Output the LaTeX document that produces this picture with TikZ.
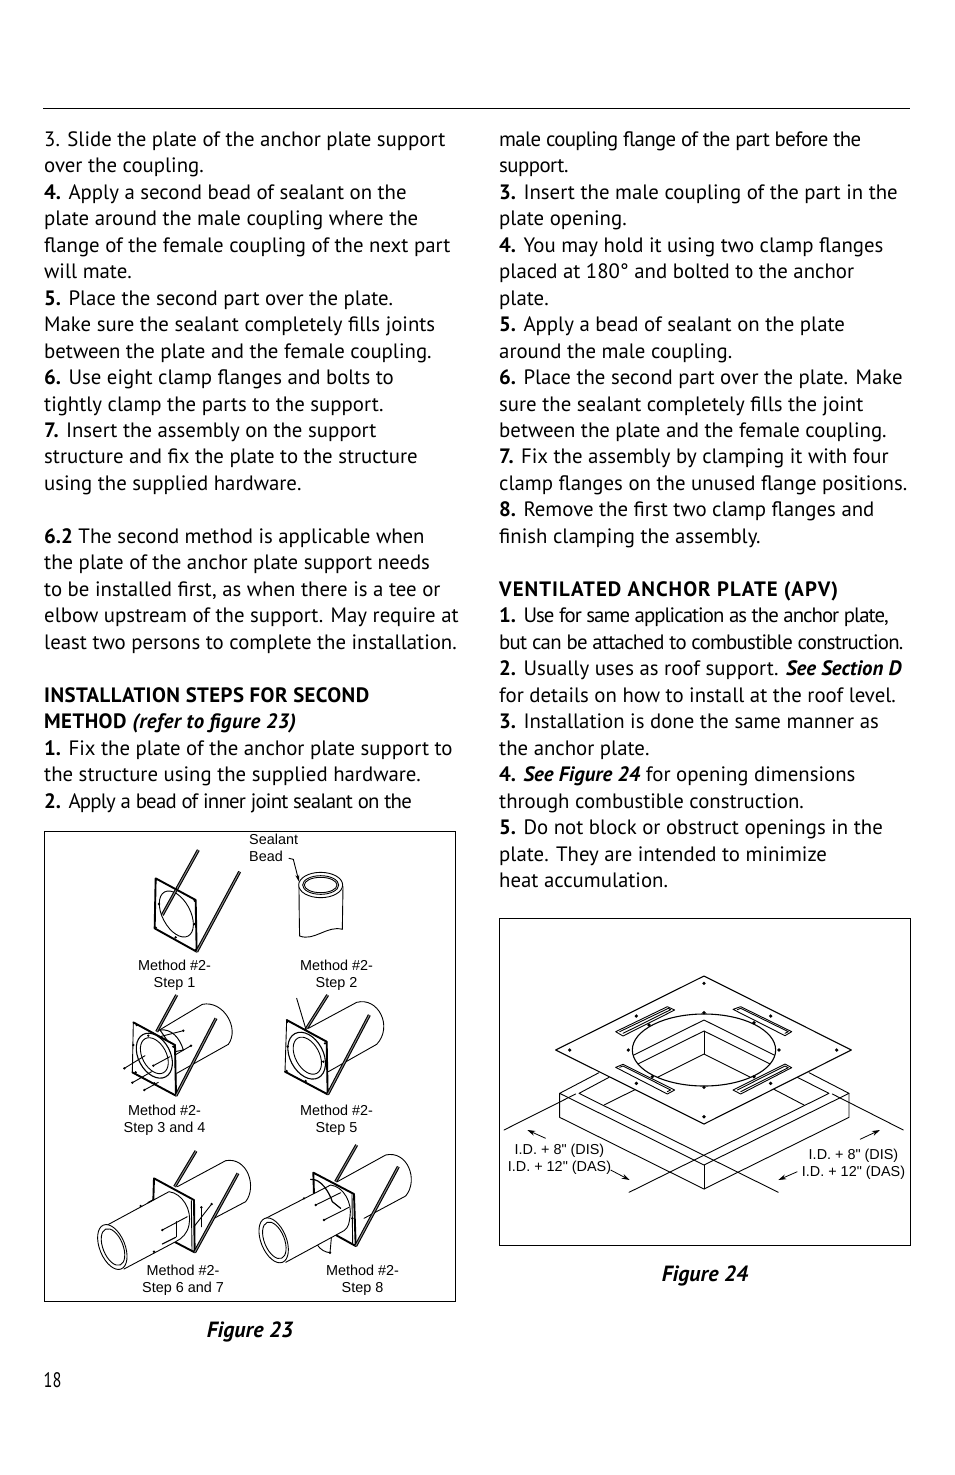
\documentclass[tikz,border=0pt]{standalone}
\usepackage{fontspec}
\setmainfont{PT Sans}
\newfontfamily\figfont{Liberation Sans}
\usetikzlibrary{arrows.meta}
\newcommand{\tight}[2]{{\addfontfeature{LetterSpace=#1}#2}}
\newcommand{\sbf}[1]{\textbf{#1}}
\newcommand{\bit}[1]{\textbf{\textit{#1}}}
\tikzset{
  bodytext/.style={anchor=north west,inner sep=0pt,align=left,font=\fontsize{20.8}{26.47}\selectfont},
  caption/.style={inner sep=0pt,font=\fontsize{22}{26}\selectfont\bfseries\itshape},
  figlabel/.style={inner sep=0pt,align=center,font=\figfont\fontsize{14.4}{17}\selectfont},
  ln/.style={line width=.9pt,line cap=round,line join=round},
  hv/.style={line width=1.9pt,line cap=round,line join=round},
  clampbar/.style={line width=1.2pt,line cap=round},
  rod/.style={draw=black,double=black!45,double distance=.9pt,line width=1.1pt},
  framebox/.style={line width=.8pt},
  tip/.style={line width=.8pt,-{Stealth[length=8pt,width=5pt]}},
}
\begin{document}
\begin{tikzpicture}[x=1pt,y=-1pt]
\useasboundingbox[fill=white] (0,0) rectangle (954,1475);
\draw[line width=.8pt] (43,108.5) -- (910,108.5);

\node[bodytext] (leftcol) at (44,131.3) {3. Slide the plate of the anchor plate support\\
over the coupling.\\
\sbf{4.} Apply a second bead of sealant on the\\
plate around the male coupling where the\\
flange of the female coupling of the next part\\
will mate.\\
\sbf{5.} Place the second part over the plate.\\
Make sure the sealant completely fills joints\\
between the plate and the female coupling.\\
\sbf{6.} Use eight clamp flanges and bolts to\\
tightly clamp the parts to the support.\\
\sbf{7.} Insert the assembly on the support\\
structure and fix the plate to the structure\\
using the supplied hardware.\\
\mbox{}\\
\sbf{6.2} The second method is applicable when\\
the plate of the anchor plate support needs\\
to be installed first, as when there is a tee or\\
elbow upstream of the support. May require at\\
least two persons to complete the installation.\\
\mbox{}\\
\tight{2}{\sbf{INSTALLATION STEPS FOR SECOND}}\\
\tight{2}{\sbf{METHOD}} \tight{2}{\bit{(refer to figure 23)}}\\
\sbf{1.} Fix the plate of the anchor plate support to\\
the structure using the supplied hardware.\\
\sbf{2.} \tight{-3.7}{Apply a bead of inner joint sealant on the}};

\node[bodytext] (rightcol) at (499,131.3) {\tight{-3.1}{male coupling flange of the part before the}\\
\tight{-2.6}{support.}\\
\sbf{3.} Insert the male coupling of the part in the\\
plate opening.\\
\sbf{4.} You may hold it using two clamp flanges\\
placed at 180° and bolted to the anchor\\
plate.\\
\sbf{5.} Apply a bead of sealant on the plate\\
around the male coupling.\\
\sbf{6.} Place the second part over the plate. Make\\
sure the sealant completely fills the joint\\
between the plate and the female coupling.\\
\sbf{7.} Fix the assembly by clamping it with four\\
clamp flanges on the unused flange positions.\\
\sbf{8.} Remove the first two clamp flanges and\\
finish clamping the assembly.\\
\mbox{}\\
\tight{5}{\sbf{VENTILATED ANCHOR PLATE (APV)}}\\
\sbf{1.} \tight{-4.6}{Use for same application as the anchor plate,}\\
\tight{-3.5}{but can be attached to combustible construction.}\\
\sbf{2.} Usually uses as roof support. \bit{See Section D}\\
for details on how to install at the roof level.\\
\sbf{3.} Installation is done the same manner as\\
the anchor plate.\\
\sbf{4.} \bit{See Figure 24} for opening dimensions\\
through combustible construction.\\
\sbf{5.} Do not block or obstruct openings in the\\
plate. They are intended to minimize\\
heat accumulation.};

\node[inner sep=0pt,font=\fontsize{21}{26}\selectfont] (pageno) at (52.5,1380) {\scalebox{.78}[1]{18}};
\node[caption] (cap23) at (250,1331.5) {Figure 23};
\node[caption] (cap24) at (705,1275.5) {Figure 24};

% ---------- Figure 23 ----------
\draw[framebox] (44,831) rectangle (455.7,1301.5);
\node[figlabel,align=left,anchor=north west] (sealant) at (249,834) {Sealant\\Bead};
\node[figlabel] (m1) at (174.5,975.5) {Method \#2-\\Step 1};
\node[figlabel] (m2) at (336.5,975.5) {Method \#2-\\Step 2};
\node[figlabel] (m3) at (164.5,1120.5) {Method \#2-\\Step 3 and 4};
\node[figlabel] (m5) at (336.5,1120.5) {Method \#2-\\Step 5};
\node[figlabel] (m6) at (183,1280.5) {Method \#2-\\Step 6 and 7};
\node[figlabel] (m8) at (362.5,1280.5) {Method \#2-\\Step 8};

% Steps 1 and 2
\begin{scope}[shift={(44,830)},scale=1/3]
  \draw[hv,fill=white] (335,145) -- (455,210) -- (458,365) -- (332,295) -- cycle;
  \draw[ln] (397,252) ellipse [x radius=75,y radius=42,rotate=-62];
  \draw[rod] (355,255) -- (463,60);
  \draw[rod] (458,365) -- (587,125);
  \foreach \p in {(338,148),(452,212),(335,293),(455,360),(345,222),(452,282),(397,178),(395,322)}
    \fill \p circle (4);
  % sealant cylinder
  \draw[ln] (765,170) .. controls (765,185) and (766,300) .. (767,318)
     .. controls (810,335) and (850,285) .. (895,298) -- (897,170);
  \draw[ln,fill=white] (830,165) ellipse [x radius=66,y radius=38];
  \draw[ln] (830,165) ellipse [x radius=54,y radius=28];
  \draw[ln] (830,165) ellipse [x radius=49,y radius=23];
  \draw[ln,-{Stealth[length=7pt,width=4pt]}] (735,85) -- (748,88) -- (765,155);
\end{scope}

% Steps 3 and 4
\begin{scope}[shift={(115,995)},scale=1/3]
  \draw[ln] (125,110) -- (262,28) .. controls (325,15) and (375,100) .. (340,148) -- (185,235);
  \draw[line width=1pt,fill=white] (135,105) .. controls (170,100) and (195,130) .. (205,165) -- (180,170) -- cycle;
  \draw[ln] (135,125) -- (205,107);
  \draw[ln] (180,180) -- (228,152);
  \draw[ln,fill=white] (55,82) -- (180,150) -- (183,302) -- (52,232) -- cycle;
  \draw[hv] (55,82) -- (180,150);
  \draw[hv] (52,232) -- (183,302) -- (180,150);
  \draw[line width=1.1pt,fill=white] (118,182) ellipse [x radius=72,y radius=48,rotate=-62];
  \draw[ln] (118,182) ellipse [x radius=58,y radius=36,rotate=-62];
  \draw[rod] (125,110) -- (185,0);
  \draw[rod] (183,302) -- (303,70);
  \draw[ln] (28,220) -- (90,182);
  \draw[ln] (115,212) -- (165,185);
  \draw[ln] (52,263) -- (110,230);
  \draw[ln] (88,285) -- (130,262);
  \foreach \p in {(205,107),(228,152),(28,220),(115,212),(52,263),(88,285),(65,90),(62,232),(175,155),(100,122),(55,150),(118,265)}
    \fill \p circle (4);
\end{scope}

% Step 5
\begin{scope}[shift={(275,995)},scale=1/3]
  \draw[ln] (100,100) -- (245,22) .. controls (310,5) and (355,95) .. (305,148) -- (160,230);
  \draw[ln] (65,10) -- (92,100);
  \draw[ln,fill=white] (35,75) -- (155,140) -- (158,298) -- (30,230) -- cycle;
  \draw[hv] (35,75) -- (155,140);
  \draw[hv] (30,230) -- (158,298) -- (155,140);
  \draw[line width=1.1pt,fill=white] (95,182) ellipse [x radius=75,y radius=50,rotate=-62];
  \draw[ln] (97,182) ellipse [x radius=60,y radius=36,rotate=-62];
  \draw[rod] (95,100) -- (158,0);
  \draw[rod] (158,298) -- (283,60);
  \foreach \p in {(92,102),(38,155),(145,200),(92,258),(37,80),(150,145),(35,228)}
    \fill \p circle (4);
\end{scope}

% Steps 6 and 7, Step 8
\begin{scope}[shift={(44,1070)},scale=1/3]
  \draw[ln] (400,350) -- (545,272) .. controls (610,260) and (640,350) .. (605,395) -- (510,445);
  \draw[hv,fill=white] (328,390) -- (330,325) -- (450,390) -- (452,547) -- (385,512);
  \draw[ln] (442,392) -- (444,540);
  \draw[rod] (392,350) -- (456,243);
  \draw[rod] (452,547) -- (582,310);
  \draw[ln,fill=white] (190,465) -- (375,365) .. controls (415,370) and (445,420) .. (435,465)
     .. controls (430,490) and (415,505) .. (395,515) -- (240,597);
  \draw[ln,fill=white] (205,531) ellipse [x radius=71,y radius=38,rotate=-68];
  \draw[ln] (207,531) ellipse [x radius=58,y radius=30,rotate=-68];
  \draw[ln] (355,480) -- (430,440);
  \draw[ln] (450,470) -- (503,402);
  \draw[clampbar] (398,455) -- (398,500);
  \draw[clampbar] (472,415) -- (472,470);
  \draw[clampbar] (355,522) -- (395,502);
  \draw[clampbar] (312,398) -- (330,388);
  \foreach \p in {(355,480),(503,402),(290,408),(330,545),(472,412)}
    \fill \p circle (4);

  \draw[ln] (880,335) -- (1025,255) .. controls (1090,240) and (1125,330) .. (1085,378) -- (960,445);
  \draw[hv,fill=white] (810,375) -- (808,308) -- (930,372) -- (935,528) -- (870,492);
  \draw[ln] (924,374) -- (926,520);
  \draw[rod] (875,335) -- (938,225);
  \draw[rod] (935,528) -- (1063,290);
  \draw[ln] (820,525) .. controls (830,540) and (845,547) .. (858,548) -- (862,505);
  \draw[ln,fill=white] (665,445) -- (860,345) .. controls (900,350) and (925,400) .. (918,440)
     .. controls (915,460) and (915,470) .. (900,482) -- (725,577);
  \draw[ln,fill=white] (689,511) ellipse [x radius=71,y radius=38,rotate=-68];
  \draw[ln] (691,511) ellipse [x radius=58,y radius=30,rotate=-68];
  \draw[ln] (815,405) -- (890,368);
  \draw[ln] (840,450) -- (915,412);
  \draw[clampbar] (800,328) .. controls (830,325) and (855,365) .. (865,395);
  \draw[clampbar] (865,395) -- (890,415);
  \foreach \p in {(815,405),(840,450),(780,385),(858,548),(925,445)}
    \fill \p circle (4);
\end{scope}

% ---------- Figure 24 ----------
\draw[framebox] (499,918) rectangle (910.5,1245.5);
\begin{scope}[shift={(499,950)},scale=1/3]
  % lower frame
  \draw[ln] (300,368) -- (182,430) -- (615,645) -- (1050,430) -- (930,368);
  \draw[ln] (182,430) -- (182,502) -- (615,717) -- (1050,502) -- (1050,430);
  \draw[ln] (615,645) -- (615,717);
  \draw[ln] (330,382) -- (240,430) -- (838,727);
  \draw[ln] (895,382) -- (990,430) -- (390,727);
  \draw[ln] (315,465) -- (410,418);
  \draw[ln] (915,465) -- (825,418);
  \draw[ln] (15,540) -- (230,432);
  \draw[ln] (1000,432) -- (1213,540);
  % plate
  \draw[line width=1.1pt,line join=round,fill=white] (615,78) -- (1057,300) -- (615,522) -- (170,300) -- cycle;
  % opening
  \draw[line width=1.1pt,fill=white] (615,300) ellipse [x radius=215,y radius=108];
  \begin{scope}
    \clip (615,300) ellipse [x radius=215,y radius=108];
    \draw[ln] (300,367) -- (615,210) -- (930,367);
    \draw[ln] (300,400) -- (615,243) -- (930,400);
    \draw[ln] (615,243) -- (615,312);
    \draw[ln] (400,420) -- (615,312) -- (830,420);
  \end{scope}
  % vent slots
  \draw[ln] (350,245) -- (505,170) -- (527,180) -- (372,258) -- cycle;
  \draw[ln] (362,245) -- (508,175) -- (515,179) -- (372,250);
  \draw[ln] (702,178) -- (725,170) -- (878,245) -- (858,257) -- cycle;
  \draw[ln] (715,179) -- (725,175) -- (868,245) -- (858,250);
  \draw[ln] (350,352) -- (372,343) -- (527,420) -- (505,432) -- cycle;
  \draw[ln] (362,352) -- (372,348) -- (515,420) -- (505,425);
  \draw[ln] (702,420) -- (858,342) -- (878,353) -- (725,432) -- cycle;
  \draw[ln] (715,420) -- (858,348) -- (868,353) -- (725,425);
  \foreach \p in {(615,100),(615,188),(615,412),(615,500),(212,300),(388,300),(840,300),(1013,300),(412,198),(815,198),(412,400),(815,400),(450,225),(765,218),(460,380),(765,380)}
    \fill \p circle (5.5);
  \draw[tip] (140,565) -- (85,540);
  \draw[tip] (335,660) -- (392,690);
  \draw[tip] (1083,568) -- (1143,540);
  \draw[tip] (895,665) -- (838,690);
\end{scope}
\node[figlabel] (dl) at (559.5,1159) {I.D. + 8" (DIS)\\I.D. + 12" (DAS)};
\node[figlabel] (dr) at (853.5,1164) {I.D. + 8" (DIS)\\I.D. + 12" (DAS)};
\end{tikzpicture}
\end{document}
